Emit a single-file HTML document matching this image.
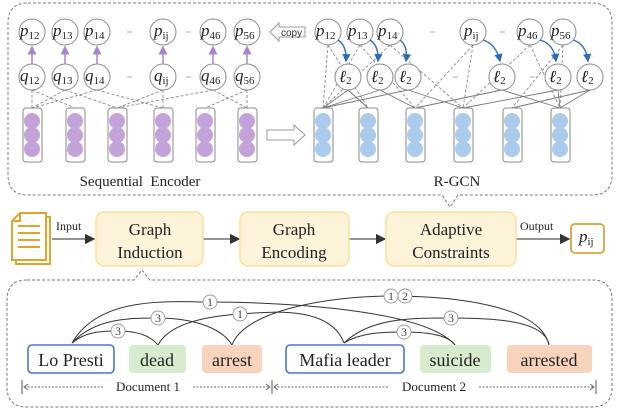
<!DOCTYPE html>
<html><head><meta charset="utf-8"><style>
html,body{margin:0;padding:0;background:#fff;}
svg{display:block;}
.n{fill:#fff;stroke:#8a8a8a;stroke-width:1;}
.m{font-family:"Liberation Serif",serif;font-style:italic;font-size:17px;fill:#222;}
.s{font-size:11px;font-style:normal;}
.dl{stroke:#888;stroke-width:0.9;stroke-dasharray:3,2;fill:none;}
.sl{stroke:#777;stroke-width:0.9;fill:none;}
.col{fill:#fff;stroke:#8a8a8a;stroke-width:1;}
.t{font-family:"Liberation Serif",serif;fill:#222;}
.arc{stroke:#333;stroke-width:1;fill:none;}
.lab{fill:#fff;stroke:#999;stroke-width:0.9;}
.lt{font-family:"Liberation Serif",serif;font-size:12px;fill:#444;text-anchor:middle;}
</style></head><body>
<svg width="617" height="411" viewBox="0 0 617 411" xmlns="http://www.w3.org/2000/svg">
<defs>
<marker id="pa" markerWidth="6" markerHeight="6" refX="5" refY="3" orient="auto"><path d="M0,0 L6,3 L0,6 Z" fill="#a685cf"/></marker>
<marker id="ba" markerWidth="6" markerHeight="6" refX="5" refY="3" orient="auto"><path d="M0,0 L6,3 L0,6 Z" fill="#2e6db6"/></marker>
<marker id="ga" markerWidth="8" markerHeight="8" refX="7" refY="4" orient="auto"><path d="M0,0 L8,4 L0,8 Z" fill="#333"/></marker>
</defs>

<path d="M28,3 H592 Q612,3 612,23 V175 Q612,195 592,195 H458 L450,207 L442,195 H28 Q8,195 8,175 V23 Q8,3 28,3 Z" fill="none" stroke="#777" stroke-width="1" stroke-dasharray="3,2"/>

<g class="dl">
<line x1="32" y1="90" x2="32" y2="108"/><line x1="32" y1="90" x2="75" y2="108"/>
<line x1="65" y1="90" x2="32" y2="108"/><line x1="65" y1="90" x2="117" y2="108"/>
<line x1="97" y1="90" x2="32" y2="108"/><line x1="97" y1="90" x2="163" y2="108"/>
<line x1="163" y1="90" x2="117" y2="108"/><line x1="163" y1="90" x2="163" y2="108"/>
<line x1="213" y1="90" x2="117" y2="108"/><line x1="213" y1="90" x2="247" y2="108"/>
<line x1="247" y1="90" x2="205" y2="108"/><line x1="247" y1="90" x2="247" y2="108"/>
</g>
<g>
<rect class="col" x="23" y="108" width="19" height="54" rx="3"/><rect class="col" x="66" y="108" width="19" height="54" rx="3"/>
<rect class="col" x="108" y="108" width="19" height="54" rx="3"/><rect class="col" x="154" y="108" width="19" height="54" rx="3"/>
<rect class="col" x="196" y="108" width="19" height="54" rx="3"/><rect class="col" x="238" y="108" width="19" height="54" rx="3"/>
</g>
<g fill="#c3a2da">
<circle cx="32" cy="121" r="8"/><circle cx="32" cy="135" r="8"/><circle cx="32" cy="149" r="8"/>
<circle cx="75" cy="121" r="8"/><circle cx="75" cy="135" r="8"/><circle cx="75" cy="149" r="8"/>
<circle cx="117" cy="121" r="8"/><circle cx="117" cy="135" r="8"/><circle cx="117" cy="149" r="8"/>
<circle cx="163" cy="121" r="8"/><circle cx="163" cy="135" r="8"/><circle cx="163" cy="149" r="8"/>
<circle cx="205" cy="121" r="8"/><circle cx="205" cy="135" r="8"/><circle cx="205" cy="149" r="8"/>
<circle cx="247" cy="121" r="8"/><circle cx="247" cy="135" r="8"/><circle cx="247" cy="149" r="8"/>
</g>
<g stroke="#a685cf" stroke-width="1.5" marker-end="url(#pa)">
<line x1="32" y1="64" x2="32" y2="47"/><line x1="65" y1="64" x2="65" y2="47"/><line x1="97" y1="64" x2="97" y2="47"/>
<line x1="163" y1="64" x2="163" y2="47"/><line x1="213" y1="64" x2="213" y2="47"/><line x1="247" y1="64" x2="247" y2="47"/>
</g>
<g>
<circle class="n" cx="32" cy="32" r="13"/><circle class="n" cx="65" cy="32" r="13"/><circle class="n" cx="97" cy="32" r="13"/>
<circle class="n" cx="163" cy="32" r="13"/><circle class="n" cx="213" cy="32" r="13"/><circle class="n" cx="247" cy="32" r="13"/>
<circle class="n" cx="32" cy="77" r="13"/><circle class="n" cx="65" cy="77" r="13"/><circle class="n" cx="97" cy="77" r="13"/>
<circle class="n" cx="163" cy="77" r="13"/><circle class="n" cx="213" cy="77" r="13"/><circle class="n" cx="247" cy="77" r="13"/>
</g>
<g class="m">
<text x="20" y="36">p<tspan class="s" dy="3">12</tspan></text>
<text x="53" y="36">p<tspan class="s" dy="3">13</tspan></text>
<text x="85" y="36">p<tspan class="s" dy="3">14</tspan></text>
<text x="154" y="36">p<tspan class="s" dy="3">ij</tspan></text>
<text x="201" y="36">p<tspan class="s" dy="3">46</tspan></text>
<text x="235" y="36">p<tspan class="s" dy="3">56</tspan></text>
<text x="20" y="81">q<tspan class="s" dy="3">12</tspan></text>
<text x="53" y="81">q<tspan class="s" dy="3">13</tspan></text>
<text x="85" y="81">q<tspan class="s" dy="3">14</tspan></text>
<text x="154" y="81">q<tspan class="s" dy="3">ij</tspan></text>
<text x="201" y="81">q<tspan class="s" dy="3">46</tspan></text>
<text x="235" y="81">q<tspan class="s" dy="3">56</tspan></text>
</g>
<g stroke="#aaa" stroke-width="1">
<line x1="127" y1="32" x2="132" y2="32"/><line x1="186" y1="32" x2="191" y2="32"/>
<line x1="127" y1="77" x2="132" y2="77"/><line x1="186" y1="77" x2="191" y2="77"/>
<line x1="430" y1="32" x2="435" y2="32"/><line x1="500" y1="32" x2="505" y2="32"/>
<line x1="453" y1="77" x2="458" y2="77"/><line x1="530" y1="77" x2="535" y2="77"/>
</g>
<path d="M270,32 L279,23 V27 H305 V37 H279 V41 Z" fill="#fff" stroke="#999"/>
<text x="281" y="36" font-family="Liberation Sans,sans-serif" font-size="10" fill="#333">copy</text>
<path d="M267,130 H294 V125 L305,135 L294,145 V140 H267 Z" fill="#fff" stroke="#999"/>
<text class="t" x="140" y="186" font-size="15" text-anchor="middle">Sequential&#160; Encoder</text>
<text class="t" x="457" y="186" font-size="15" text-anchor="middle">R-GCN</text>

<g class="dl">
<line x1="328" y1="45" x2="323" y2="108"/><line x1="328" y1="45" x2="368" y2="108"/>
<line x1="360" y1="45" x2="323" y2="108"/><line x1="360" y1="45" x2="415" y2="108"/>
<line x1="390" y1="45" x2="323" y2="108"/><line x1="390" y1="45" x2="463" y2="108"/>
<line x1="473" y1="45" x2="415" y2="108"/><line x1="473" y1="45" x2="463" y2="108"/>
<line x1="530" y1="45" x2="463" y2="108"/><line x1="530" y1="45" x2="560" y2="108"/>
<line x1="563" y1="45" x2="512" y2="108"/><line x1="563" y1="45" x2="560" y2="108"/>
</g>
<g class="sl">
<line x1="348" y1="90" x2="323" y2="108"/><line x1="348" y1="90" x2="368" y2="108"/>
<line x1="380" y1="90" x2="323" y2="108"/><line x1="380" y1="90" x2="415" y2="108"/>
<line x1="408" y1="90" x2="323" y2="108"/><line x1="408" y1="90" x2="463" y2="108"/>
<line x1="502" y1="90" x2="415" y2="108"/><line x1="502" y1="90" x2="560" y2="108"/>
<line x1="558" y1="90" x2="463" y2="108"/><line x1="558" y1="90" x2="560" y2="108"/>
<line x1="590" y1="90" x2="512" y2="108"/><line x1="590" y1="90" x2="560" y2="108"/>
</g>
<g>
<rect class="col" x="314" y="108" width="19" height="54" rx="3"/><rect class="col" x="359" y="108" width="19" height="54" rx="3"/>
<rect class="col" x="406" y="108" width="19" height="54" rx="3"/><rect class="col" x="454" y="108" width="19" height="54" rx="3"/>
<rect class="col" x="503" y="108" width="19" height="54" rx="3"/><rect class="col" x="551" y="108" width="19" height="54" rx="3"/>
</g>
<g fill="#aacbec">
<circle cx="323" cy="121" r="8"/><circle cx="323" cy="135" r="8"/><circle cx="323" cy="149" r="8"/>
<circle cx="368" cy="121" r="8"/><circle cx="368" cy="135" r="8"/><circle cx="368" cy="149" r="8"/>
<circle cx="415" cy="121" r="8"/><circle cx="415" cy="135" r="8"/><circle cx="415" cy="149" r="8"/>
<circle cx="463" cy="121" r="8"/><circle cx="463" cy="135" r="8"/><circle cx="463" cy="149" r="8"/>
<circle cx="512" cy="121" r="8"/><circle cx="512" cy="135" r="8"/><circle cx="512" cy="149" r="8"/>
<circle cx="560" cy="121" r="8"/><circle cx="560" cy="135" r="8"/><circle cx="560" cy="149" r="8"/>
</g>
<g>
<circle class="n" cx="328" cy="32" r="13"/><circle class="n" cx="360" cy="32" r="13"/><circle class="n" cx="390" cy="32" r="13"/>
<circle class="n" cx="473" cy="32" r="13"/><circle class="n" cx="530" cy="32" r="13"/><circle class="n" cx="563" cy="32" r="13"/>
<circle class="n" cx="348" cy="77" r="13"/><circle class="n" cx="380" cy="77" r="13"/><circle class="n" cx="408" cy="77" r="13"/>
<circle class="n" cx="502" cy="77" r="13"/><circle class="n" cx="558" cy="77" r="13"/><circle class="n" cx="590" cy="77" r="13"/>
</g>
<g stroke="#2e6db6" stroke-width="1.4" fill="none" marker-end="url(#ba)">
<path d="M338,40 Q347,46 346,61"/><path d="M370,40 Q379,46 378,61"/><path d="M400,40 Q408,46 406,61"/>
<path d="M483,40 Q496,44 500,61"/><path d="M540,40 Q554,44 556,61"/><path d="M573,40 Q586,44 588,61"/>
</g>
<g class="m">
<text x="316" y="36">p<tspan class="s" dy="3">12</tspan></text>
<text x="348" y="36">p<tspan class="s" dy="3">13</tspan></text>
<text x="378" y="36">p<tspan class="s" dy="3">14</tspan></text>
<text x="464" y="36">p<tspan class="s" dy="3">ij</tspan></text>
<text x="518" y="36">p<tspan class="s" dy="3">46</tspan></text>
<text x="551" y="36">p<tspan class="s" dy="3">56</tspan></text>
<text x="339" y="82">ℓ<tspan class="s" dy="2">2</tspan></text>
<text x="371" y="82">ℓ<tspan class="s" dy="2">2</tspan></text>
<text x="399" y="82">ℓ<tspan class="s" dy="2">2</tspan></text>
<text x="493" y="82">ℓ<tspan class="s" dy="2">2</tspan></text>
<text x="549" y="82">ℓ<tspan class="s" dy="2">2</tspan></text>
<text x="581" y="82">ℓ<tspan class="s" dy="2">2</tspan></text>
</g>

<g fill="#fff" stroke="#e0a42c" stroke-width="2">
<path d="M16,217 H50 V264 H16 Z"/>
<path d="M20,213 H46 V260 H12 V221 Z"/>
<path d="M12,221 H20 V213" fill="none"/>
</g>
<g stroke="#e0a42c" stroke-width="2">
<line x1="18" y1="226" x2="40" y2="226"/><line x1="18" y1="233" x2="40" y2="233"/>
<line x1="18" y1="240" x2="40" y2="240"/><line x1="18" y1="247" x2="40" y2="247"/>
</g>
<g stroke="#555" stroke-width="1.3" marker-end="url(#ga)">
<line x1="52" y1="239" x2="94" y2="239"/>
<line x1="203" y1="239" x2="239" y2="239"/>
<line x1="349" y1="239" x2="385" y2="239"/>
<line x1="516" y1="239" x2="569" y2="239"/>
</g>
<text class="t" x="56" y="230" font-size="12">Input</text>
<text class="t" x="520" y="230" font-size="12">Output</text>
<g fill="#fdf3d8" stroke="#f8df9c" stroke-width="1.5">
<rect x="96" y="212" width="107" height="54" rx="8"/>
<rect x="240" y="212" width="109" height="54" rx="8"/>
<rect x="386" y="212" width="130" height="54" rx="8"/>
</g>
<g class="t" font-size="17" text-anchor="middle">
<text x="150" y="235">Graph</text><text x="150" y="258">Induction</text>
<text x="294" y="235">Graph</text><text x="294" y="258">Encoding</text>
<text x="451" y="235">Adaptive</text><text x="451" y="258">Constraints</text>
</g>
<rect x="571" y="224" width="33" height="29" rx="4" fill="#fff" stroke="#d8a63a" stroke-width="1.8"/>
<text class="m" x="579" y="242">p<tspan class="s" dy="3">ij</tspan></text>

<path d="M27,280 H134 L142,270 L150,280 H592 Q612,280 612,300 V387 Q612,407 592,407 H27 Q7,407 7,387 V300 Q7,280 27,280 Z" fill="none" stroke="#777" stroke-width="1" stroke-dasharray="3,2"/>

<g class="arc">
<path d="M72,343 C100,295 170,302 210,302 S420,305 455,345"/>
<path d="M72,343 C95,318 130,318 158,318 S220,325 232,345"/>
<path d="M72,343 C85,332 100,331 118,331 S150,335 158,345"/>
<path d="M158,345 C170,322 210,316 240,314 S330,305 344,343"/>
<path d="M232,345 C245,310 330,296 391,296 S540,305 549,345"/>
<path d="M344,343 C360,333 380,332 404,332 S448,335 455,345"/>
<path d="M344,343 C370,318 410,318 451,318 S545,320 549,345"/>
</g>
<g>
<circle class="lab" cx="210" cy="302" r="7"/><text class="lt" x="210" y="306">1</text>
<circle class="lab" cx="158" cy="318" r="7"/><text class="lt" x="158" y="322">3</text>
<circle class="lab" cx="118" cy="331" r="7"/><text class="lt" x="118" y="335">3</text>
<circle class="lab" cx="240" cy="314" r="7"/><text class="lt" x="240" y="318" fill="#5a3e9a">1</text>
<circle class="lab" cx="391" cy="296" r="7"/><text class="lt" x="391" y="300">1</text>
<circle class="lab" cx="405" cy="296" r="7"/><text class="lt" x="405" y="300">2</text>
<circle class="lab" cx="451" cy="318" r="7"/><text class="lt" x="451" y="322">3</text>
<circle class="lab" cx="404" cy="332" r="7"/><text class="lt" x="404" y="336">3</text>
</g>

<rect x="28" y="345" width="86" height="28" rx="4" fill="#fff" stroke="#4a78c8" stroke-width="1.6"/>
<rect x="129" y="345" width="57" height="28" rx="4" fill="#d7eccd"/>
<rect x="202" y="345" width="60" height="28" rx="4" fill="#f8d4be"/>
<rect x="286" y="345" width="118" height="28" rx="4" fill="#fff" stroke="#4a78c8" stroke-width="1.6"/>
<rect x="420" y="345" width="71" height="28" rx="4" fill="#d7eccd"/>
<rect x="507" y="345" width="85" height="28" rx="4" fill="#f8d4be"/>
<g class="t" font-size="18" text-anchor="middle">
<text x="71" y="366">Lo Presti</text><text x="157" y="366">dead</text><text x="232" y="366">arrest</text>
<text x="345" y="366">Mafia leader</text><text x="455" y="366">suicide</text><text x="549" y="366">arrested</text>
</g>
<g stroke="#555" stroke-width="1">
<line x1="22" y1="380" x2="22" y2="394"/><line x1="272" y1="380" x2="272" y2="394"/><line x1="596" y1="380" x2="596" y2="394"/>
</g>
<g stroke="#666" stroke-width="0.9" stroke-dasharray="2,1.5">
<line x1="24" y1="387" x2="103" y2="387"/><line x1="193" y1="387" x2="270" y2="387"/>
<line x1="274" y1="387" x2="389" y2="387"/><line x1="479" y1="387" x2="594" y2="387"/>
</g>
<g stroke="#666" fill="none" stroke-width="0.9">
<path d="M28,384 L24,387 L28,390"/><path d="M266,384 L270,387 L266,390"/>
<path d="M278,384 L274,387 L278,390"/><path d="M590,384 L594,387 L590,390"/>
</g>
<text class="t" x="148" y="391" font-size="13" text-anchor="middle">Document 1</text>
<text class="t" x="434" y="391" font-size="13" text-anchor="middle">Document 2</text>
</svg>
</body></html>
